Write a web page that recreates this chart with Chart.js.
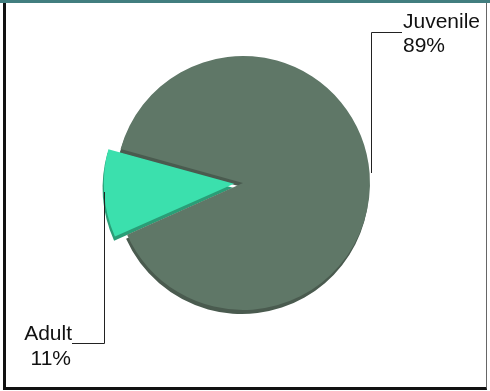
<!DOCTYPE html>
<html>
<head>
<meta charset="utf-8">
<script src="https://cdn.jsdelivr.net/npm/chart.js@4"></script>
<style>
	body { margin: 0; background: #fff; }
	#wrap { position: relative; width: 490px; height: 391px; overflow: hidden; }
	.topbar { position: absolute; left: 0; top: 0; width: 490px; height: 3px; background: #417e7f; }
	.frame { position: absolute; left: 3px; top: 3px; right: 3px; bottom: 1px; box-sizing: border-box;
		border-left: 3px solid #111; border-bottom: 3px solid #111; border-right: 1px solid #666; }
	canvas { position: absolute; left: 0; top: 0; }
</style>
</head>
<body>
<div id="wrap">
	<div class="topbar"></div>
	<div class="frame"></div>
	<canvas id="pieChart" width="490" height="391"></canvas>
</div>
<script>
// chart data
const categories = ['Juvenile', 'Adult'];
const shares = [89, 11];
const sliceColors = ['#5f7767', '#3be0ad'];
const sideColors = ['#4a5b4f', '#2a9e77'];
const explode = [0, 36];

// darker copy of each slice, pushed down a bit, for the 3d look
const sidePlugin = {
	id: 'sides',
	beforeDatasetsDraw(chart) {
		const ctx = chart.ctx;
		const arcs = chart.getDatasetMeta(0).data;
		arcs.forEach((arc, i) => {
			const off = (arc.options.offset || 0) / 4;
			const half = (arc.startAngle + arc.endAngle) / 2;
			const fix = 1 - Math.sin(Math.min(Math.PI, arc.circumference));
			const cx = arc.x + Math.cos(half) * off - 1;
			const cy = arc.y + Math.sin(half) * off + 4;
			ctx.save();
			ctx.fillStyle = sideColors[i];
			ctx.beginPath();
			ctx.moveTo(cx, cy);
			ctx.arc(cx, cy, arc.outerRadius + off * fix, arc.startAngle, arc.endAngle);
			ctx.closePath();
			ctx.fill();
			ctx.restore();
		});
	}
};

// callout labels with elbow leader lines
const calloutPlugin = {
	id: 'callouts',
	afterDatasetsDraw(chart) {
		const ctx = chart.ctx;
		const arcs = chart.getDatasetMeta(0).data;
		const total = shares.reduce((a, b) => a + b, 0);
		ctx.save();
		ctx.font = '21px "Liberation Sans", Arial, sans-serif';
		ctx.fillStyle = '#111';
		ctx.strokeStyle = '#222';
		ctx.lineWidth = 1;

		// Juvenile, right side
		const a0 = arcs[0];
		const rx = Math.round(a0.x + a0.outerRadius + 1) + 0.5;
		ctx.beginPath();
		ctx.moveTo(rx, a0.y - 10);
		ctx.lineTo(rx, 32.5);
		ctx.lineTo(402, 32.5);
		ctx.stroke();
		ctx.textAlign = 'left';
		ctx.textBaseline = 'alphabetic';
		ctx.fillText(categories[0], 403, 27.5);
		ctx.fillText(Math.round(shares[0] / total * 100) + '%', 403, 51.5);

		// Adult, lower left
		const a1 = arcs[1];
		const off = (a1.options.offset || 0) / 4;
		const half = (a1.startAngle + a1.endAngle) / 2;
		const fix = 1 - Math.sin(Math.min(Math.PI, a1.circumference));
		const lx = Math.round(a1.x + Math.cos(half) * off - (a1.outerRadius + off * fix)) + 0.5;
		ctx.beginPath();
		ctx.moveTo(lx, a1.y + 9);
		ctx.lineTo(lx, 343.5);
		ctx.lineTo(72, 343.5);
		ctx.stroke();
		ctx.textAlign = 'right';
		ctx.fillText(categories[1], 72, 339.5);
		ctx.fillText(Math.round(shares[1] / total * 100) + '%', 71, 364.5);
		ctx.restore();
	}
};

new Chart(document.getElementById('pieChart'), {
	type: 'pie',
	data: {
		labels: categories,
		datasets: [{
			data: shares,
			backgroundColor: sliceColors,
			borderWidth: 0,
			offset: explode
		}]
	},
	options: {
		responsive: false,
		animation: false,
		devicePixelRatio: 1,
		rotation: 285.5,
		radius: 127,
		layout: { padding: { left: 0, right: 4, top: 0, bottom: 25 } },
		plugins: {
			legend: { display: false },
			tooltip: { enabled: false }
		}
	},
	plugins: [sidePlugin, calloutPlugin]
});
</script>
</body>
</html>
